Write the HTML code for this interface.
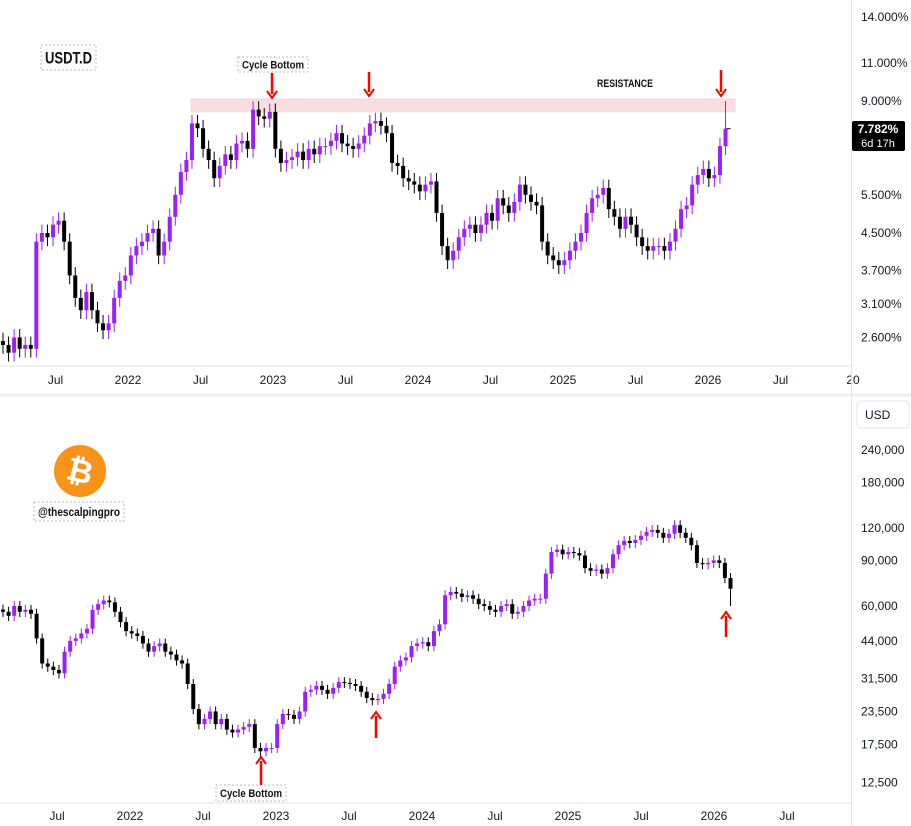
<!DOCTYPE html>
<html><head><meta charset="utf-8">
<style>
html,body{margin:0;padding:0;background:#fff;}
svg{display:block;font-family:"Liberation Sans",sans-serif;}
.ax{font-size:12px;fill:#131722;}
</style></head>
<body>
<svg id="c" width="911" height="826" viewBox="0 0 911 826">
  <rect x="0" y="0" width="911" height="826" fill="#fff"/>
  <g id="topPane"></g>
  <g id="botPane"></g>
  <line x1="0" y1="366" x2="851" y2="366" stroke="#e0e3eb"/>
  <line x1="0" y1="395" x2="911" y2="395" stroke="#eceef2" stroke-width="3"/>
  <line x1="0" y1="803" x2="851" y2="803" stroke="#e0e3eb"/>
  <line x1="851.5" y1="0" x2="851.5" y2="826" stroke="#e0e3eb"/>
  <g id="annot"></g>
</svg>
<script>
// ---- data ----
const usdtCloses = [2.5,2.4,2.6,2.45,2.5,2.45,4.3,4.5,4.4,4.7,
4.8,4.3,3.6,3.2,3.0,3.3,3.0,2.8,2.7,2.8,
3.2,3.5,3.6,4.0,4.2,4.3,4.5,4.6,4.0,4.3,
4.9,5.5,6.2,6.6,8.0,7.8,7.0,6.6,6.0,6.4,
6.8,6.6,7.2,7.3,7.0,8.6,8.3,8.2,8.5,7.0,
6.5,6.6,6.7,6.9,6.6,7.0,6.8,7.1,7.1,7.3,
7.6,7.2,7.1,7.0,7.2,7.5,8.0,8.1,7.9,7.6,
6.5,6.4,6.0,5.9,5.8,5.6,5.8,5.9,5.0,4.2,
3.9,4.1,4.4,4.6,4.7,4.5,4.7,5.0,4.8,5.4,
5.2,5.0,5.3,5.8,5.5,5.3,5.2,4.3,4.0,3.9,
3.8,3.9,4.1,4.3,4.5,5.0,5.4,5.5,5.7,5.1,
4.9,4.6,4.9,4.7,4.4,4.2,4.1,4.2,4.2,4.1,
4.3,4.6,5.1,5.2,5.8,6.1,6.3,6.0,6.1,7.1,7.782];
const usdtLastHigh = 9.0;
const usdtTicks = [14,11,9,5.5,4.5,3.7,3.1,2.6];
const usdtTickLabels = ["14.000%","11.000%","9.000%","5.500%","4.500%","3.700%","3.100%","2.600%"];
const resistLow = 8.5, resistHigh = 9.1;

const btcCloses = [57000,55000,60000,57000,58000,56000,45000,36000,35000,34000,
33000,40000,44000,45000,47000,49000,58000,61000,63000,62000,
57000,52000,48000,47000,46000,43000,40000,42000,43000,40000,
39000,37000,36000,30000,24000,21000,22000,23500,21000,22000,
20000,19500,20000,20500,21000,17000,16500,17000,17000,21000,
23000,22800,22000,23500,28000,28500,29500,28500,27500,29000,
30500,30300,30000,29500,28000,26500,26000,26300,27500,30000,
35000,37000,38000,42000,43000,43500,42000,48000,51000,66000,
68000,67000,65000,66000,64000,61000,60000,58000,57000,60000,
61000,56000,57000,60000,63000,64000,64000,80000,97000,99000,
95000,97000,96000,94000,84000,82000,83000,80000,84000,95000,
103000,107000,105000,108000,112000,116000,118000,115000,110000,114000,
123000,115000,110000,103000,88000,87000,88000,90000,88000,77000,70000];
const btcLastLow = 60000;
const btcTicks = [240000,180000,120000,90000,60000,44000,31500,23500,17500,12500];
const btcTickLabels = ["240,000","180,000","120,000","90,000","60,000","44,000","31,500","23,500","17,500","12,500"];

const topTimeLabels = ["Jul","2022","Jul","2023","Jul","2024","Jul","2025","Jul","2026","Jul","20"];
const botTimeLabels = ["Jul","2022","Jul","2023","Jul","2024","Jul","2025","Jul","2026","Jul"];
const timeLabelYears = [2021.5,2022,2022.5,2023,2023.5,2024,2024.5,2025,2025.5,2026,2026.5,2027];

// ---- scales ----
const NS="http://www.w3.org/2000/svg";
function mk(tag, attrs, parent){const e=document.createElementNS(NS,tag);for(const k in attrs)e.setAttribute(k,attrs[k]);parent.appendChild(e);return e;}
const yTop = v => 101 - 132*Math.log2(v/9);
const yBot = v => 528 - 78*Math.log2(v/120000);
const xTopYear = y => 128 + (y-2022)*145;
const xBotYear = y => 130 + (y-2022)*146;
const stepYears = 14/365.25;
const firstTop = 2022 - 125/145;
const firstBot = 2022 - 127/146;
const UP="#9c1ff5", DN="#000";

function drawCandles(g, closes, xs, ys, lastExtra, isTop){
  for(let i=0;i<closes.length;i++){
    const c=closes[i], o= i===0? c*1.02 : closes[i-1];
    let hi=Math.max(o,c)*1.045, lo=Math.min(o,c)*0.955;
    if(i===closes.length-1){ if(isTop) hi=lastExtra; else lo=lastExtra; }
    const x=xs(i), col = c>=o?UP:DN;
    const w=mk('line',{x1:x,x2:x,y1:ys(hi),y2:ys(lo),stroke:col,'stroke-width':1},g);
    
    
    const yt=ys(Math.max(o,c)), yb=ys(Math.min(o,c));
    const b=mk('rect',{x:x-2,y:yt,width:4,height:Math.max(1,yb-yt),fill:col},g);
    
    
  }
}
const topG=document.getElementById('topPane'), botG=document.getElementById('botPane');

const band=mk('rect',{x:191,y:yTop(resistHigh),width:544,height:yTop(resistLow)-yTop(resistHigh),fill:"#fbdde0",stroke:"#e6dcf2"},topG);



drawCandles(topG, usdtCloses, i=>xTopYear(firstTop+i*stepYears), yTop, usdtLastHigh, true);
drawCandles(botG, btcCloses, i=>xBotYear(firstBot+i*stepYears), yBot, btcLastLow, false);

usdtTicks.forEach((v,i)=>{
  const t=mk('text',{x:861,y:yTop(v)+4,class:'ax'},topG); t.textContent=usdtTickLabels[i];
  
  
});
btcTicks.forEach((v,i)=>{
  const t=mk('text',{x:861,y:yBot(v)+4,class:'ax'},botG); t.textContent=btcTickLabels[i];
  
  
});
topTimeLabels.forEach((s,i)=>{
  const t=mk('text',{x:xTopYear(timeLabelYears[i]),y:384,class:'ax','text-anchor':'middle'},topG); t.textContent=s;
  
  
});
botTimeLabels.forEach((s,i)=>{
  const t=mk('text',{x:xBotYear(timeLabelYears[i]),y:820,class:'ax','text-anchor':'middle'},botG); t.textContent=s;
  
  
});
const lx=xTopYear(firstTop+(usdtCloses.length-1)*stepYears);
mk('line',{x1:lx+1,x2:lx+5,y1:yTop(7.782),y2:yTop(7.782),stroke:'#000'},topG);
const pl=mk('rect',{x:852,y:121,width:53,height:30,rx:2,fill:'#000'},topG);


const pt=mk('text',{x:878,y:133,fill:'#fff','font-size':'12','font-weight':'bold','text-anchor':'middle'},topG); pt.textContent="7.782%";


const pt2=mk('text',{x:878,y:147,fill:'#fff','font-size':'11','text-anchor':'middle'},topG); pt2.textContent="6d 17h";



const an=document.getElementById('annot');
function box(x,y,w,h,txt,name,fs){
  const g=mk('g',{},an);
  
  
  mk('rect',{x:x,y:y,width:w,height:h,fill:'#fff',stroke:'#bbb','stroke-dasharray':'2,2'},g);
  const t=mk('text',{x:x+w/2,y:y+h/2+fs*0.36,'text-anchor':'middle','font-size':fs,'font-weight':'bold',fill:'#111','textLength':w-8,'lengthAdjust':'spacingAndGlyphs'},g);
  t.textContent=txt;
}
function arrow(x,y1,y2,name){
  const g=mk('g',{},an);
  
  
  const d = y2>y1?1:-1;
  mk('line',{x1:x,x2:x,y1:y1,y2:y2-d*4,stroke:'#f00','stroke-width':2.5},g);
  mk('polyline',{points:`${x-5},${y2-d*7} ${x},${y2} ${x+5},${y2-d*7}`,fill:'none',stroke:'#f00','stroke-width':2},g);
}
box(41,45,55,25,"USDT.D","usdt-title",17);
box(238,57,70,15,"Cycle Bottom","top-cycle-bottom-label",11);
const rt=mk('text',{x:625,y:87,'text-anchor':'middle','font-size':11,'font-weight':'bold',fill:'#111',textLength:56,lengthAdjust:'spacingAndGlyphs'},an);
rt.textContent="RESISTANCE";


arrow(272,73,98,'arrow-down-cycle-bottom');
arrow(369,72,96,'arrow-down-2023');
arrow(721,70,96,'arrow-down-2026');
const lg=mk('g',{},an);


mk('circle',{cx:80,cy:471,r:26,fill:'#f7931a'},lg);
const bt=mk('text',{x:80,y:482,'text-anchor':'middle','font-size':32,'font-weight':'bold',fill:'#fff',transform:'rotate(14 80 471)'},lg); bt.textContent="₿";
box(34,502,90,19,"@thescalpingpro","watermark-handle",12);
box(216,785,70,16,"Cycle Bottom","bottom-cycle-bottom-label",11);
arrow(261,785,757,'arrow-up-cycle-bottom');
arrow(376,738,712,'arrow-up-2023');
arrow(726,637,612,'arrow-up-2026');
const ug=mk('g',{},an);


mk('rect',{x:857,y:401,width:52,height:27,rx:4,fill:'#fff',stroke:'#e0e3eb'},ug);
const ut=mk('text',{x:865,y:419,class:'ax'},ug); ut.textContent="USD";
</script>
</body></html>
